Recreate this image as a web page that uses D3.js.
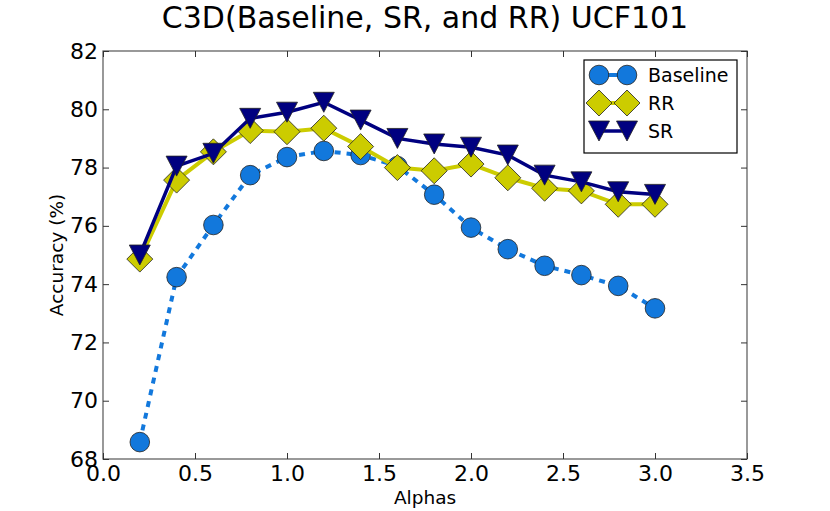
<!DOCTYPE html>
<html>
<head>
<meta charset="utf-8">
<script src="https://cdn.jsdelivr.net/npm/d3@7"></script>
<style>
body { margin: 0; background: #fff; }
text { font-family: "DejaVu Sans", sans-serif; }
</style>
</head>
<body>
<svg id="chart" width="830" height="511"></svg>
<script>
// values
var alphas = [0.2, 0.4, 0.6, 0.8, 1.0, 1.2, 1.4, 1.6, 1.8, 2.0, 2.2, 2.4, 2.6, 2.8, 3.0];
var baseline = [68.58, 74.24, 76.03, 77.74, 78.36, 78.57, 78.43, 78.05, 77.07, 75.94, 75.2, 74.63, 74.31, 73.94, 73.17];
var rr = [74.86, 77.57, 78.54, 79.27, 79.23, 79.35, 78.72, 78.0, 77.89, 78.12, 77.65, 77.29, 77.2, 76.74, 76.74];
var sr = [75.0, 78.05, 78.49, 79.69, 79.9, 80.24, 79.63, 79.0, 78.81, 78.7, 78.43, 77.74, 77.51, 77.17, 77.08];
var xTicks = [0.0, 0.5, 1.0, 1.5, 2.0, 2.5, 3.0, 3.5];
var yTicks = [68, 70, 72, 74, 76, 78, 80, 82];

var svg = d3.select("#chart");
var mLeft = 103, mRight = 747, mTop = 51, mBottom = 459;

var x = d3.scaleLinear().domain([0, 3.5]).range([mLeft, mRight]);
var y = d3.scaleLinear().domain([68, 82]).range([mBottom, mTop]);

var series = [
    {name: "Baseline", vals: baseline, color: "#1278dc", width: 4, dash: "6,6", shape: "circle"},
    {name: "RR", vals: rr, color: "#cccc00", width: 4, dash: null, shape: "diamond"},
    {name: "SR", vals: sr, color: "#000080", width: 3.5, dash: null, shape: "tri"}
];

function marker(g, shape, color) {
    if (shape == "circle") {
        g.append("circle").attr("r", 9.8).attr("fill", color).attr("stroke", "#222").attr("stroke-width", 0.8);
    } else if (shape == "diamond") {
        g.append("path").attr("d", "M0,-13L13,0L0,13L-13,0Z").attr("fill", color).attr("stroke", "#222").attr("stroke-width", 0.8);
    } else {
        g.append("path").attr("d", "M-10.5,-10L10.5,-10L0,10Z").attr("fill", color).attr("stroke", "#222").attr("stroke-width", 0.8);
    }
}

// frame and ticks (classic matplotlib look)
svg.append("rect").attr("x", mLeft).attr("y", mTop).attr("width", mRight - mLeft).attr("height", mBottom - mTop)
    .attr("fill", "none").attr("stroke", "#555").attr("stroke-width", 1.2);

var xAxisB = d3.axisBottom(x).tickValues(xTicks).tickSize(-6).tickPadding(6).tickFormat(d3.format(".1f"));
var xAxisT = d3.axisTop(x).tickValues(xTicks).tickSize(-6).tickFormat("");
var yAxisL = d3.axisLeft(y).tickValues(yTicks).tickSize(-6).tickPadding(5);
var yAxisR = d3.axisRight(y).tickValues(yTicks).tickSize(-6).tickFormat("");

function styleAxis(g) {
    g.select(".domain").remove();
    g.selectAll("line").attr("stroke", "#333");
    g.attr("font-size", 22).attr("font-family", "DejaVu Sans");
    g.selectAll("text").attr("fill", "#000");
}
svg.append("g").attr("transform", "translate(0," + mBottom + ")").call(xAxisB).call(styleAxis);
svg.append("g").attr("transform", "translate(0," + mTop + ")").call(xAxisT).call(styleAxis);
svg.append("g").attr("transform", "translate(" + mLeft + ",0)").call(yAxisL).call(styleAxis);
svg.append("g").attr("transform", "translate(" + mRight + ",0)").call(yAxisR).call(styleAxis);

// lines and markers
var line = d3.line().x(d => x(d[0])).y(d => y(d[1]));
series.forEach(function(s) {
    var pts = alphas.map((a, i) => [a, s.vals[i]]);
    svg.append("path").datum(pts).attr("d", line).attr("fill", "none")
        .attr("stroke", s.color).attr("stroke-width", s.width)
        .attr("stroke-dasharray", s.dash);
    svg.append("g").selectAll("g").data(pts).enter().append("g")
        .attr("transform", d => "translate(" + x(d[0]) + "," + y(d[1]) + ")")
        .each(function() { marker(d3.select(this), s.shape, s.color); });
});

// title and labels
svg.append("text").attr("x", (mLeft + mRight) / 2).attr("y", 28).attr("text-anchor", "middle")
    .attr("font-size", 30).text("C3D(Baseline, SR, and RR) UCF101");
svg.append("text").attr("x", (mLeft + mRight) / 2).attr("y", 504).attr("text-anchor", "middle")
    .attr("font-size", 18.5).text("Alphas");
svg.append("text").attr("transform", "translate(63," + (mTop + mBottom) / 2 + ") rotate(-90)")
    .attr("text-anchor", "middle").attr("font-size", 18.5).text("Accuracy (%)");

// legend
var lg = svg.append("g");
lg.append("rect").attr("x", 584).attr("y", 60).attr("width", 153).attr("height", 93)
    .attr("fill", "#fff").attr("stroke", "#000").attr("stroke-width", 1.2);
series.forEach(function(s, i) {
    var ly = 75 + i * 28;
    lg.append("line").attr("x1", 599).attr("x2", 627).attr("y1", ly).attr("y2", ly)
        .attr("stroke", s.color).attr("stroke-width", s.width);
    marker(lg.append("g").attr("transform", "translate(599," + ly + ")"), s.shape, s.color);
    marker(lg.append("g").attr("transform", "translate(627," + ly + ")"), s.shape, s.color);
    lg.append("text").attr("x", 648).attr("y", ly).attr("dy", "0.35em").attr("font-size", 19).text(s.name);
});
</script>
</body>
</html>
